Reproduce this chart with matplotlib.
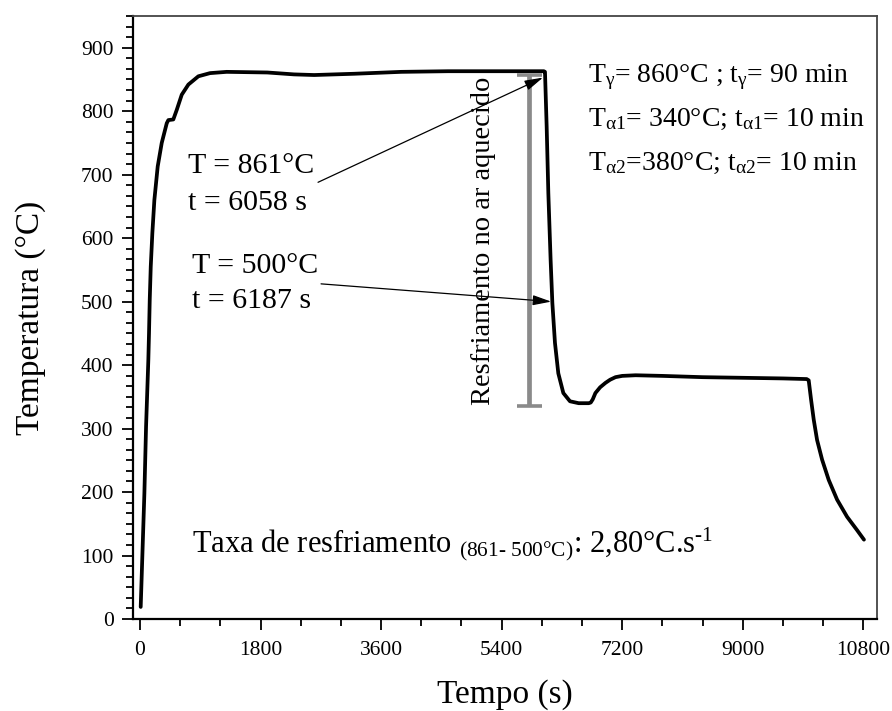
import numpy as np
import matplotlib
matplotlib.use('Agg')
import matplotlib.pyplot as plt
from matplotlib.ticker import MultipleLocator, AutoMinorLocator

plt.rcParams['font.family'] = ['Liberation Serif', 'DejaVu Serif']
plt.rcParams['mathtext.fontset'] = 'custom'
plt.rcParams['mathtext.rm'] = 'Liberation Serif'
plt.rcParams['mathtext.it'] = 'Liberation Serif:italic'

# curva de temperatura (tempo em s, temperatura em °C)
tempo = [10, 65, 90, 124, 134, 145, 160, 184, 214, 264, 324, 399, 423, 497,
         548, 623, 722, 871, 1045, 1294, 1900, 2300, 2600, 3200, 3900, 4600,
         5400, 6030, 6047, 6072, 6097, 6131, 6157, 6196, 6246, 6321, 6420,
         6550, 6700, 6730, 6760, 6800, 6870, 6950, 7020, 7100, 7200, 7400,
         7800, 8400, 9000, 9600, 9955, 9985, 10021, 10060, 10110, 10185,
         10284, 10409, 10558, 10707, 10810]
temperatura = [19, 198, 303, 408, 450, 503, 555, 608, 660, 713, 750, 781, 786,
               787, 802, 826, 842, 855, 860, 862, 861, 858, 857, 859, 862, 863,
               863, 863, 862, 776, 671, 566, 498, 435, 387, 356, 343, 340, 340,
               341, 346, 356, 365, 372, 377, 381, 383, 384, 383, 381, 380, 379,
               378, 376, 345, 314, 282, 251, 219, 188, 161, 140, 125]

# barra cinza (intervalo de resfriamento)
barra_t = 5808
barra_T = [336, 857]

xticks = [0, 1800, 3600, 5400, 7200, 9000, 10800]
yticks = [0, 100, 200, 300, 400, 500, 600, 700, 800, 900]

fig = plt.figure(figsize=(8.92, 7.11), dpi=100)
ax = fig.add_axes([0.1491, 0.1294, 0.8341, 0.8481])

ax.plot(tempo, temperatura, color='black', lw=2.7, solid_joinstyle='round',
        solid_capstyle='round')

meio = (barra_T[0] + barra_T[1]) / 2
ax.errorbar([barra_t], [meio], yerr=[(barra_T[1] - barra_T[0]) / 2],
            fmt='none', ecolor='#8a8a8a', elinewidth=3.4, capsize=9,
            capthick=2.6)

ax.text(5122, 596, 'Resfriamento no ar aquecido', rotation=90,
        ha='center', va='center', fontsize=20.5)

# anotacoes com setas
seta = dict(arrowstyle='-|>,head_length=0.8,head_width=0.22', color='black',
            lw=0.9, mutation_scale=14, shrinkA=0, shrinkB=0)
ax.annotate('', xy=(6017, 853), xytext=(2658, 688), arrowprops=seta)
ax.annotate('', xy=(6140, 500), xytext=(2703, 528), arrowprops=seta)

ax.text(717, 702.5, 'T = 861°C', fontsize=21.5, va='baseline')
ax.text(717, 644.7, 't = 6058 s', fontsize=21.5, va='baseline')
ax.text(780, 545, 'T = 500°C', fontsize=21.5, va='baseline')
ax.text(771, 489.7, 't = 6187 s', fontsize=21.5, va='baseline')

ax.text(6690, 846.5, r'T$_\mathregular{γ}$= 860°C ; t$_\mathregular{γ}$= 90 min',
        fontsize=20, va='baseline')
ax.text(6690, 777, r'T$_\mathregular{α1}$= 340°C; t$_\mathregular{α1}$= 10 min',
        fontsize=20, va='baseline')
ax.text(6690, 707.8, r'T$_\mathregular{α2}$=380°C; t$_\mathregular{α2}$= 10 min',
        fontsize=20, va='baseline')

ax.text(776, 106,
        r'Taxa de resfriamento $_\mathregular{(861‐\ 500°C)}$: 2,80°C.s$^\mathregular{‐1}$',
        fontsize=22, va='baseline')

ax.set_xlim(-105, 11005)
ax.set_ylim(0, 950)
ax.set_xticks(xticks)
ax.set_yticks(yticks)
ax.xaxis.set_minor_locator(AutoMinorLocator(3))
ax.yaxis.set_minor_locator(AutoMinorLocator(6))
ax.tick_params(which='both', direction='out', top=False, right=False,
               labelsize=15.5, width=1.3)
ax.tick_params(which='major', length=8)
ax.tick_params(which='minor', length=5)
ax.tick_params(axis='y', pad=6)
ax.tick_params(axis='x', pad=8)

for s in ['left', 'bottom']:
    ax.spines[s].set_linewidth(1.6)
for s in ['top', 'right']:
    ax.spines[s].set_linewidth(1.3)
    ax.spines[s].set_color('#444444')

ax.set_xlabel('Tempo (s)', fontsize=24, labelpad=14)
ax.set_ylabel('Temperatura (°C)', fontsize=24, labelpad=25)

fig.savefig('out.png', dpi=100)
